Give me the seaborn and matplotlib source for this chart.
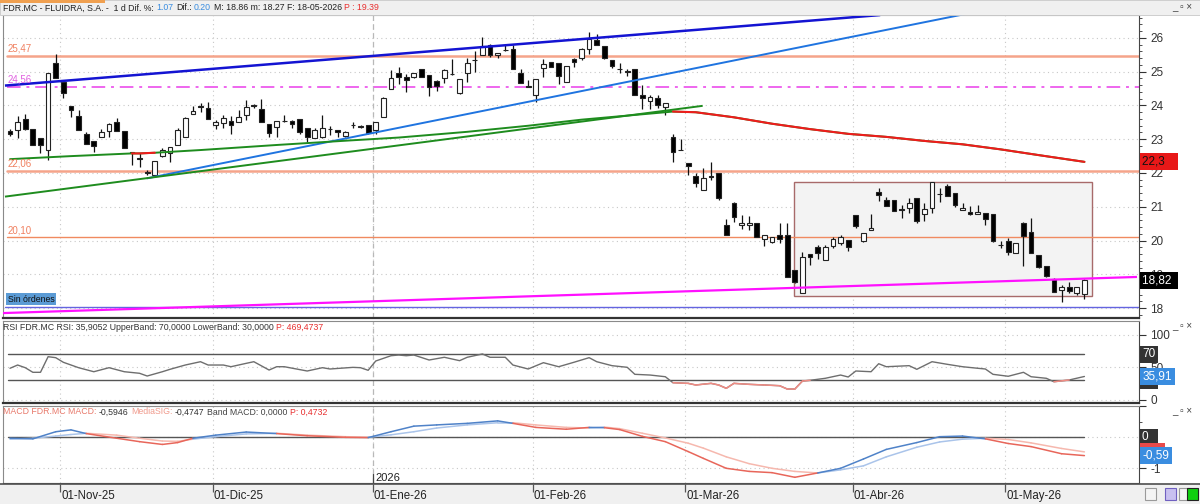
"""FDR.MC daily candles with trendlines, RSI and MACD panes."""

import matplotlib
matplotlib.use("Agg")
import numpy as np
import pandas as pd
import matplotlib.pyplot as plt
import seaborn as sns
from matplotlib.patches import Rectangle

# ---- daily OHLC ----
opens = [
    23.24, 23.27, 23.60, 23.30, 23.05, 22.68, 25.25, 24.70, 23.99, 23.70,
    23.15, 22.95, 23.07, 23.23, 23.52, 23.25, 22.60, 22.44, 22.03, 21.94,
    22.51, 22.58, 22.83, 23.08, 23.74, 23.99, 23.93, 23.42, 23.47, 23.54,
    23.50, 23.72, 24.00, 23.90, 23.44, 23.37, 23.55, 23.54, 23.60, 23.32,
    23.03, 23.07, 23.31, 23.27, 23.11, 23.43, 23.38, 23.42, 23.27, 23.67,
    24.49, 24.95, 24.85, 24.83, 25.07, 24.90, 24.73, 24.80, 24.94, 24.38,
    24.97, 25.34, 25.50, 25.79, 25.50, 25.65, 25.66, 24.95, 24.57, 24.31,
    25.10, 25.30, 25.27, 24.71, 25.37, 25.40, 25.66, 25.94, 25.76, 25.35,
    25.08, 25.01, 25.07, 24.31, 24.14, 24.21, 23.95, 23.06, 22.69, 22.30,
    21.91, 21.50, 21.90, 22.01, 20.46, 21.10, 20.47, 20.47, 20.53, 20.05,
    19.97, 20.15, 20.15, 19.13, 18.45, 19.60, 19.82, 19.42, 19.84, 19.94,
    20.02, 20.76, 19.99, 20.31, 21.45, 21.20, 21.20, 20.93, 20.95, 21.25,
    20.79, 20.95, 21.39, 21.60, 21.40, 20.90, 20.85, 20.79, 20.82, 20.80,
    19.88, 20.00, 19.64, 20.51, 20.26, 19.57, 19.24, 18.85, 18.53, 18.63,
    18.45, 18.42]
highs = [
    23.30, 23.69, 23.74, 23.30, 23.05, 24.95, 25.52, 24.70, 23.99, 23.87,
    23.20, 22.95, 23.30, 23.47, 23.64, 23.25, 22.63, 22.58, 22.09, 22.36,
    22.75, 22.78, 23.32, 23.67, 23.99, 24.06, 24.09, 23.57, 23.72, 23.70,
    23.87, 24.16, 24.03, 24.19, 23.44, 23.54, 23.72, 23.56, 23.60, 23.32,
    23.32, 23.72, 23.38, 23.27, 23.23, 23.50, 23.42, 23.42, 23.50, 24.26,
    25.05, 25.15, 24.93, 24.97, 25.07, 24.90, 24.77, 25.07, 25.37, 24.78,
    25.40, 25.60, 26.04, 25.82, 25.56, 25.79, 25.79, 25.07, 24.76, 24.78,
    25.37, 25.30, 25.27, 25.17, 25.42, 25.69, 26.19, 26.12, 25.76, 25.35,
    25.25, 25.07, 25.07, 24.60, 24.31, 24.31, 24.08, 23.16, 23.00, 22.30,
    21.99, 22.14, 22.34, 22.01, 20.63, 21.15, 20.75, 20.73, 20.53, 20.15,
    20.09, 20.51, 20.51, 19.13, 19.67, 19.60, 19.87, 19.87, 20.11, 20.17,
    20.02, 20.76, 20.23, 20.80, 21.55, 21.30, 21.20, 21.05, 21.25, 21.25,
    21.10, 21.74, 21.55, 21.67, 21.40, 21.10, 21.02, 21.05, 20.82, 20.80,
    20.00, 20.06, 19.94, 20.56, 20.66, 19.57, 19.24, 18.88, 18.68, 18.78,
    18.62, 18.86]
lows = [
    23.10, 23.05, 23.28, 22.83, 22.58, 22.39, 24.80, 24.23, 23.67, 23.27,
    22.85, 22.61, 23.07, 23.08, 23.25, 22.73, 22.24, 22.19, 21.94, 21.92,
    22.48, 22.34, 22.83, 23.08, 23.74, 23.80, 23.60, 23.30, 23.32, 23.15,
    23.50, 23.57, 23.93, 23.50, 23.08, 23.08, 23.52, 23.32, 23.17, 22.93,
    23.03, 23.03, 23.14, 23.08, 23.08, 23.32, 23.34, 23.15, 23.17, 23.67,
    24.49, 24.63, 24.41, 24.80, 24.83, 24.28, 24.43, 24.66, 24.90, 24.34,
    24.70, 25.00, 25.50, 25.45, 25.40, 25.62, 25.07, 24.68, 24.54, 24.11,
    24.85, 25.13, 24.64, 24.71, 25.15, 25.35, 25.53, 25.79, 25.37, 25.10,
    24.97, 24.87, 24.31, 23.89, 23.89, 23.92, 23.72, 22.34, 22.68, 21.94,
    21.58, 21.50, 21.79, 21.20, 20.16, 20.56, 20.33, 20.31, 20.11, 19.85,
    19.92, 19.92, 18.91, 18.73, 18.45, 19.27, 19.44, 19.42, 19.77, 19.87,
    19.70, 20.36, 19.96, 20.31, 21.18, 21.02, 20.88, 20.66, 20.82, 20.51,
    20.59, 20.82, 21.15, 21.32, 21.00, 20.90, 20.76, 20.79, 20.46, 19.97,
    19.77, 19.57, 19.64, 19.24, 19.64, 19.20, 18.93, 18.48, 18.19, 18.45,
    18.39, 18.27]
closes = [
    23.17, 23.50, 23.30, 22.83, 22.83, 24.95, 24.80, 24.36, 23.87, 23.27,
    22.85, 22.81, 23.20, 23.44, 23.25, 22.73, 22.63, 22.42, 22.01, 22.36,
    22.68, 22.78, 23.27, 23.62, 23.84, 23.97, 23.60, 23.52, 23.62, 23.42,
    23.67, 23.97, 23.99, 23.50, 23.18, 23.54, 23.53, 23.44, 23.20, 23.08,
    23.27, 23.34, 23.30, 23.20, 23.20, 23.42, 23.37, 23.18, 23.50, 24.23,
    24.80, 24.83, 24.75, 24.97, 24.83, 24.56, 24.58, 25.05, 24.93, 24.78,
    25.25, 25.36, 25.76, 25.50, 25.56, 25.64, 25.07, 24.68, 24.56, 24.78,
    25.23, 25.13, 24.87, 25.17, 25.30, 25.66, 25.96, 25.79, 25.40, 25.17,
    25.07, 24.99, 24.31, 24.21, 24.24, 24.01, 24.08, 22.63, 22.67, 22.21,
    21.71, 21.84, 21.88, 21.25, 20.16, 20.70, 20.53, 20.53, 20.11, 20.15,
    20.09, 20.05, 18.91, 18.78, 19.50, 19.50, 19.64, 19.82, 20.04, 20.10,
    19.80, 20.43, 20.23, 20.36, 21.35, 21.02, 20.88, 20.91, 21.10, 20.59,
    20.92, 21.74, 21.38, 21.32, 21.05, 20.97, 20.80, 20.85, 20.63, 19.99,
    19.86, 19.67, 19.94, 20.13, 19.64, 19.22, 18.95, 18.48, 18.61, 18.51,
    18.62, 18.82]

holidays = ["2025-12-25", "2025-12-26", "2026-01-01", "2026-04-03", "2026-04-06", "2026-05-01"]
dates = pd.bdate_range("2025-10-23", "2026-05-18", freq="C", holidays=holidays)
month_abbr = {1: "Ene", 2: "Feb", 3: "Mar", 4: "Abr", 5: "May", 6: "Jun",
              7: "Jul", 8: "Ago", 9: "Sep", 10: "Oct", 11: "Nov", 12: "Dic"}

# moving average (green above price, red below), sampled along the curve
ma_idx = [0, 8, 15, 16, 17, 18, 19, 25, 35, 45, 51, 60, 68, 75, 82, 86, 87,
          90, 95, 100, 105, 110, 115, 120, 125, 130, 135, 141]
ma_val = [22.41, 22.50, 22.57, 22.58, 22.58, 22.59, 22.60, 22.68, 22.83, 22.97,
          23.05, 23.22, 23.40, 23.58, 23.72, 23.80, 23.82, 23.80, 23.65, 23.46,
          23.30, 23.16, 23.07, 22.95, 22.85, 22.70, 22.53, 22.33]
ma_red_spans = [(16, 19), (87, 141)]

# drawn trendlines: (start index, start price, end index, end price)
upper_channel = (-0.66, 24.59, 114.2, 26.68)
rising_blue = (17.94, 21.84, 130.0, 26.92)
rising_green = (-0.66, 21.30, 90.9, 23.99)
support_magenta = (-0.92, 17.85, 147.9, 18.92)

levels = [25.47, 22.06, 20.10]
level_labels = ["25,47", "22,06", "20,10"]
pivot_level = 24.56
orders_level = 18.04
box_span = (102.9, 141.95, 18.37, 21.72)

rsi_idx = [0, 1, 2, 3, 4, 5, 6, 7, 9, 11, 13, 15, 17, 18, 20, 21, 23, 25, 26, 28,
           29, 31, 32, 34, 35, 36, 39, 41, 42, 45, 46, 47, 48, 50, 51, 52, 53, 55, 57, 59,
           60, 62, 63, 65, 66, 68, 70, 72, 74, 76, 77, 79, 81, 82, 84, 86, 87, 89, 90, 92,
           93, 94, 95, 97, 99, 101, 102, 103, 104, 105, 107, 109, 110, 111, 113, 114, 115, 118, 119, 121,
           123, 125, 127, 128, 129, 131, 133, 134, 136, 137, 139, 141]
rsi_val = [48.5, 53.5, 49.4, 42.3, 42.3, 66.3, 64.8, 57.7, 49.4, 43.2,
           49.4, 43.2, 40.8, 36.6, 43.2, 46.9, 53.5, 58.6, 53.5, 53.5,
           50.9, 56.1, 58.6, 45.8, 50.9, 50.9, 44.3, 49.4, 47.4, 49.9,
           49.4, 45.4, 59.7, 67.8, 68.9, 67.8, 68.9, 61.2, 65.4, 60.2,
           65.4, 70.5, 65.4, 65.4, 53.5, 47.4, 57.1, 50.9, 57.7, 64.8,
           58.6, 52.5, 50.0, 39.2, 38.1, 35.5, 26.3, 25.3, 22.8, 25.3,
           22.8, 17.7, 25.3, 23.8, 22.8, 21.7, 16.6, 16.6, 28.9, 30.0,
           33.1, 38.1, 35.1, 44.3, 43.2, 55.5, 50.9, 52.5, 46.9, 58.6,
           54.6, 50.9, 48.5, 47.4, 39.2, 36.2, 42.3, 35.5, 33.1, 27.8,
           30.5, 35.9]

macd_idx = [0, 3, 6, 8, 10, 14, 17, 20, 22, 24, 27, 31, 35, 39, 44, 47, 50, 53, 56, 60,
            64, 66, 69, 73, 76, 78, 80, 83, 86, 89, 91, 94, 97, 100, 103, 106, 109, 112, 115, 119,
            122, 125, 128, 131, 134, 138, 141]
macd_val = [-0.03, -0.05, 0.18, 0.24, 0.12, -0.03, -0.14, -0.23, -0.17, -0.03,
            0.07, 0.17, 0.12, 0.05, 0.00, -0.01, 0.18, 0.36, 0.40, 0.45,
            0.53, 0.45, 0.32, 0.26, 0.32, 0.31, 0.25, 0.03, -0.14, -0.46,
            -0.68, -1.00, -1.10, -1.14, -1.29, -1.15, -1.00, -0.70, -0.39, -0.17,
            0.02, 0.04, -0.05, -0.20, -0.30, -0.53, -0.59]
signal_val = [-0.06, -0.03, 0.04, 0.09, 0.13, 0.07, -0.03, -0.12, -0.13, -0.06,
              0.02, 0.11, 0.13, 0.07, 0.02, 0.00, 0.08, 0.18, 0.30, 0.40,
              0.47, 0.47, 0.40, 0.32, 0.30, 0.33, 0.28, 0.13, -0.02, -0.19,
              -0.35, -0.63, -0.85, -1.00, -1.10, -1.15, -1.05, -0.92, -0.63, -0.32,
              -0.15, -0.06, -0.03, -0.07, -0.18, -0.36, -0.47]

# ---- layout helpers (pixel geometry of the reference) ----
W, H = 1200, 504
X0, STEP = 10.0, 7.62
HEAD_PT = 6.3


def px2i(x):
    return (x - X0) / STEP


sns.set_theme(style="white")
plt.rcParams["font.family"] = ["Liberation Sans", "DejaVu Sans"]

fig = plt.figure(figsize=(W / 100, H / 100), dpi=100)
fig.patch.set_facecolor("white")


def add_px_axes(x0, y0, x1, y1):
    return fig.add_axes([x0 / W, 1 - y1 / H, (x1 - x0) / W, (y1 - y0) / H])


def rich_text(x_px, y_px, parts, size=HEAD_PT, gap=2.5):
    renderer = fig.canvas.get_renderer()
    x = x_px
    for s, col in parts:
        t = fig.text(x / W, 1 - y_px / H, s, color=col, fontsize=size, ha="left", va="center")
        x += t.get_window_extent(renderer).width + gap


def value_box(a, y, text, fc, tc="white"):
    a.text(1.003, y, text, transform=a.get_yaxis_transform(), ha="left", va="center",
           fontsize=8.5, color=tc, zorder=10, clip_on=False,
           bbox=dict(boxstyle="square,pad=0.22", fc=fc, ec="none"))


def style_pane(a):
    for side, sp in a.spines.items():
        sp.set_color("#8a8a8a")
        sp.set_linewidth(0.8)
    a.spines["right"].set_color("#444444")
    a.spines["bottom"].set_color("#333333")
    a.spines["bottom"].set_linewidth(1.6)
    a.yaxis.tick_right()
    a.tick_params(axis="y", which="both", right=True, left=False, labelright=True,
                  labelleft=False, direction="out", colors="#333333")
    a.tick_params(axis="y", which="major", length=5, width=0.8, pad=3, labelsize=8.5)
    a.tick_params(axis="y", which="minor", length=2.5, width=0.6)
    a.tick_params(axis="x", bottom=False, labelbottom=False)


month_pos = [i - 0.4 for i in range(1, len(dates)) if dates[i].month != dates[i - 1].month]
month_lab = [f"01-{month_abbr[dates[int(p + 0.4)].month]}-{dates[int(p + 0.4)].strftime('%y')}"
             for p in month_pos]
year_pos = [p for p in month_pos if dates[int(p + 0.4)].month == 1]

# window chrome
fig.patches.append(Rectangle((0, 1 - 15 / H), 1, 15 / H, transform=fig.transFigure,
                             fc="#f0f0f0", ec="#c8c8c8", lw=0.6, zorder=0))
fig.patches.append(Rectangle((0, 1 - 3 / H), 105 / W, 3 / H, transform=fig.transFigure,
                             fc="#f0a050", ec="none", zorder=1))

# ---- price pane ----
ax = add_px_axes(3, 15, 1139, 318)
ax.set_xlim(px2i(3), px2i(1139))
ax.set_ylim(17.704, 26.681)
style_pane(ax)
ax.set_yticks(range(18, 27))
ax.set_yticks(np.arange(17.8, 26.61, 0.2), minor=True)
ax.set_xticks(month_pos)
ax.grid(True, which="major", ls=(0, (1, 3)), color="#c8c8c8", lw=0.8)
for p in year_pos:
    ax.axvline(p, color="#b8b8b8", ls=(0, (4, 3)), lw=0.9, zorder=1)

x0b, x1b, y0b, y1b = box_span
ax.add_patch(Rectangle((x0b, y0b), x1b - x0b, y1b - y0b, fc="#f3f3f3", ec="#a86a6a", lw=1.0, zorder=1))

for i, (o, h, l, c) in enumerate(zip(opens, highs, lows, closes)):
    ax.plot([i, i], [l, h], color="#111111", lw=0.9, zorder=3, solid_capstyle="butt")
    up = c >= o
    ax.add_patch(Rectangle((i - 0.31, min(o, c)), 0.62, max(abs(c - o), 0.012),
                           fc="white" if up else "black", ec="#222222", lw=0.8, zorder=4))

xl = ax.get_xlim()
for lv, lab in zip(levels, level_labels):
    is_thin = lv == levels[-1]
    ax.plot([-0.43, xl[1]], [lv, lv], color="#f08a60" if is_thin else "#f5a48a",
            lw=1.0 if is_thin else 1.8, zorder=2)
    ax.text(-0.3, lv + 0.06, lab, color="#f08060", fontsize=7, va="bottom", ha="left", zorder=6)
ax.plot([-0.43, xl[1]], [pivot_level, pivot_level], color="#ee66ee", lw=1.4,
        ls=(0, (7, 3, 1.5, 3)), zorder=2)
ax.text(-0.3, pivot_level + 0.06, "24,56", color="#e060e0", fontsize=7, va="bottom", ha="left", zorder=6)

ax.plot([-0.66, xl[1]], [orders_level, orders_level], color="#6464e0", lw=1.0, zorder=2)
ax.text(-0.3, orders_level + 0.09, "Sin órdenes", color="#111111", fontsize=6.3, va="bottom",
        ha="left", zorder=7, bbox=dict(boxstyle="square,pad=0.18", fc="#5b9bd5", ec="none"))

for (a0, p0, a1, p1), col, lw in [(upper_channel, "#1414d2", 1.8), (rising_blue, "#1f74e0", 1.4),
                                  (rising_green, "#1e8c1e", 1.4), (support_magenta, "#ff10ff", 1.6)]:
    ax.plot([a0, a1], [p0, p1], color=col, lw=lw, zorder=5, solid_capstyle="butt")

sns.lineplot(x=ma_idx, y=ma_val, ax=ax, color="#1e8c1e", lw=1.4, zorder=5)
for s0, s1 in ma_red_spans:
    sel = [k for k, i in enumerate(ma_idx) if s0 <= i <= s1]
    sns.lineplot(x=[ma_idx[k] for k in sel], y=[ma_val[k] for k in sel], ax=ax,
                 color="#ee1c1c", lw=1.5, zorder=6)

value_box(ax, ma_val[-1], "22,3   ", "#e81818", tc="#111111")
value_box(ax, closes[-1], "18,82 ", "#000000")

# ---- RSI pane ----
ax_rsi = add_px_axes(3, 321, 1139, 403)
ax_rsi.set_xlim(xl)
ax_rsi.set_ylim(-4.9, 121.2)
style_pane(ax_rsi)
ax_rsi.set_yticks([0, 50, 100])
ax_rsi.set_yticks([25, 75], minor=True)
ax_rsi.set_xticks(month_pos)
ax_rsi.grid(True, which="major", ls=(0, (1, 3)), color="#c8c8c8", lw=0.8)
for p in year_pos:
    ax_rsi.axvline(p, color="#b8b8b8", ls=(0, (4, 3)), lw=0.9, zorder=1)
for band in (70, 30):
    ax_rsi.plot([-0.26, len(closes) - 1], [band, band], color="#555555", lw=1.0, zorder=2)
sns.lineplot(x=rsi_idx, y=rsi_val, ax=ax_rsi, color="#6e6e6e", lw=1.0, zorder=3)
for k in range(len(rsi_idx) - 1):
    if rsi_val[k] < 31 and rsi_val[k + 1] < 31:
        ax_rsi.plot(rsi_idx[k:k + 2], rsi_val[k:k + 2], color="#f08c84", lw=1.1, zorder=4)
value_box(ax_rsi, 70, "70", "#333333")
value_box(ax_rsi, 30, "    ", "#333333")
value_box(ax_rsi, rsi_val[-1], "35,91", "#3a8de0")

# ---- MACD pane ----
ax_macd = add_px_axes(3, 406, 1139, 483)
ax_macd.set_xlim(xl)
ax_macd.set_ylim(-1.474, 1.01)
style_pane(ax_macd)
ax_macd.spines["bottom"].set_linewidth(0.8)
ax_macd.set_yticks([-1, 0, 1])
ax_macd.set_yticklabels(["-1", "", ""])
ax_macd.set_yticks([-0.5, 0.5], minor=True)
ax_macd.set_xticks(month_pos)
ax_macd.grid(True, which="major", ls=(0, (1, 3)), color="#c8c8c8", lw=0.8)
for p in year_pos:
    ax_macd.axvline(p, color="#b8b8b8", ls=(0, (4, 3)), lw=0.9, zorder=1)
    ax_macd.plot([p, p], [-1.18, -1.474], color="#444444", lw=0.9, zorder=2)
    ax_macd.text(p + 0.3, -1.3, "2026", fontsize=8, color="#222222", ha="left", va="center")
ax_macd.plot([-0.26, len(closes) - 1], [0, 0], color="#555555", lw=1.0, zorder=2)
for k in range(len(macd_idx) - 1):
    above = macd_val[k] + macd_val[k + 1] >= signal_val[k] + signal_val[k + 1]
    xs = macd_idx[k:k + 2]
    ax_macd.plot(xs, signal_val[k:k + 2], color="#aac4ea" if above else "#f6b8ae", lw=1.1, zorder=3)
    ax_macd.plot(xs, macd_val[k:k + 2], color="#4f82c8" if above else "#e8665a", lw=1.1, zorder=4)
value_box(ax_macd, 0, "0  ", "#333333")
value_box(ax_macd, signal_val[-1], "      ", "#e84a4a")
value_box(ax_macd, macd_val[-1], "-0,59", "#3a8de0")

# ---- date strip ----
ax_d = add_px_axes(0, 484, 1200, 504)
ax_d.set_facecolor("#f0f0f0")
ax_d.set_xlim(px2i(0), px2i(1200))
ax_d.set_ylim(0, 1)
ax_d.set_xticks([])
ax_d.set_yticks([])
for side, sp in ax_d.spines.items():
    sp.set_visible(side == "top")
ax_d.spines["top"].set_color("#555555")
ax_d.vlines(month_pos, 0.62, 1.0, color="#555555", lw=0.9)
for p, lab in zip(month_pos, month_lab):
    ax_d.text(p + 0.15, 0.42, lab, fontsize=8.3, color="#222222", ha="left", va="center")
for xp, fc, ec in [(1145, "#f4f4f4", "#9a9a9a"), (1165, "#c8c0f0", "#7060c0"),
                   (1179, "#f4f4f4", "#9a9a9a"), (1187, "#10d010", "#222222")]:
    fig.patches.append(Rectangle((xp / W, 1 - 500 / H), 11 / W, 12 / H, transform=fig.transFigure,
                                 fc=fc, ec=ec, lw=0.8, zorder=5))

# ---- headers ----
rich_text(3, 8, [("FDR.MC - FLUIDRA, S.A. -  1 d Dif. %:", "#222222"), ("1.07", "#3a8de0"),
                 ("Dif.:", "#222222"), ("0.20", "#3a8de0"),
                 ("M: 18.86 m: 18.27 F: 18-05-2026", "#222222"), ("P : 19.39", "#e83030")])
rich_text(3, 327, [("RSI FDR.MC RSI: 35,9052 UpperBand: 70,0000 LowerBand: 30,0000", "#333333"),
                   ("P: 469,4737", "#e83030")])
rich_text(3, 412, [("MACD FDR.MC MACD:", "#e8786a"), ("-0,5946", "#333333"), ("MediaSIG:", "#f09a8c"),
                   ("-0,4747", "#333333"), ("Band MACD: 0,0000", "#444444"), ("P: 0,4732", "#e83030")])
for yy in (7, 326, 411):
    fig.text(1172 / W, 1 - yy / H, "_ ▫ ×", fontsize=7, color="#444444", ha="left", va="center")

fig.savefig("out.png", dpi=100)
